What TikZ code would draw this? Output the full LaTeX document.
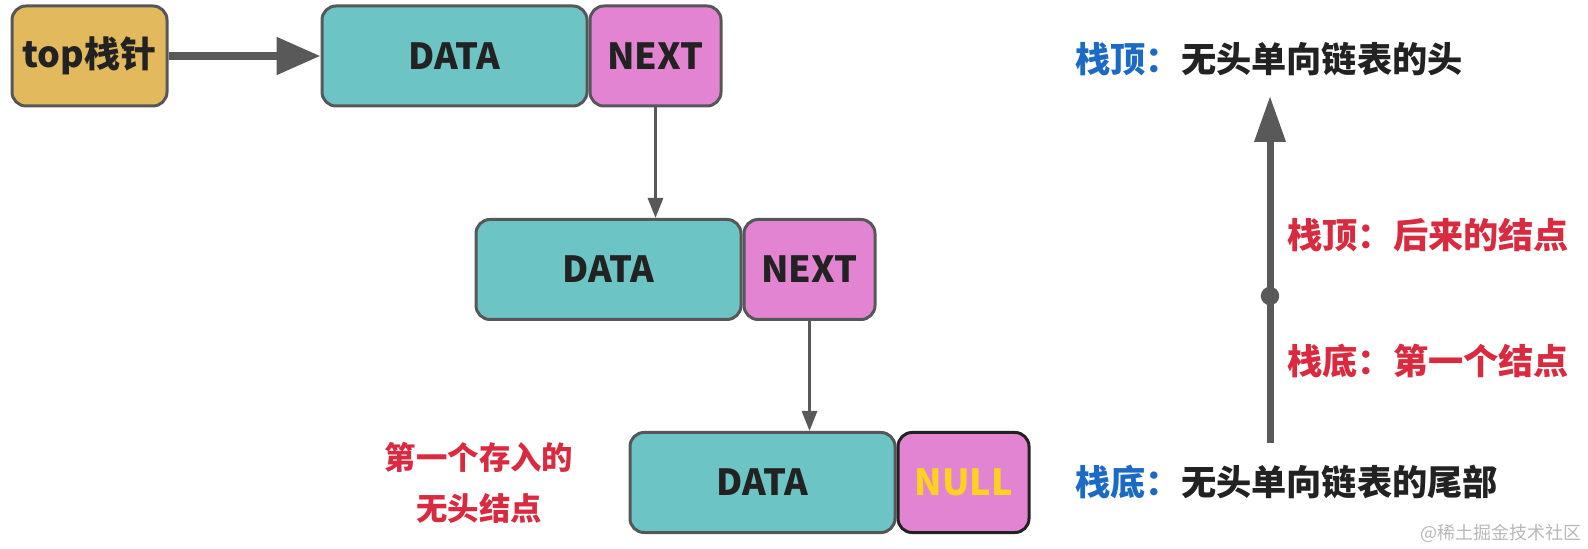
\documentclass[tikz,border=0pt]{standalone}
\usepackage{fontspec}
\setmainfont{Noto Sans CJK SC}
\usetikzlibrary{arrows.meta}
\definecolor{boxgray}{HTML}{555759}
\definecolor{arrowgray}{HTML}{595959}
\definecolor{topfill}{HTML}{E2B95C}
\definecolor{datafill}{HTML}{6CC4C4}
\definecolor{nextfill}{HTML}{E384D3}
\definecolor{txt}{HTML}{222222}
\definecolor{nullyellow}{HTML}{FCD21E}
\definecolor{lblblue}{HTML}{1B6AC4}
\definecolor{lblred}{HTML}{D92A3F}
\definecolor{wmgray}{HTML}{B8B8B8}
\begin{document}
\begin{tikzpicture}[x=0.5pt,y=-0.5pt,
  box/.style={draw=boxgray, line width=1.5pt, rounded corners=7pt, inner sep=0pt,
    minimum height=50pt, text=txt, font=\bfseries\fontsize{18}{20}\selectfont},
  databox/.style={box, fill=datafill, minimum width=132.5pt},
  nextbox/.style={box, fill=nextfill, minimum width=65.5pt},
  bigarrow/.style={draw=arrowgray, line width=4pt, -{Triangle[length=22pt,width=18pt]}},
  vbigarrow/.style={draw=arrowgray, line width=3.5pt, -{Triangle[length=23pt,width=15pt]}},
  smallarrow/.style={draw=arrowgray, line width=1.5pt, -{Triangle[length=10pt,width=7.5pt]}},
  cjklbl/.style={font=\bfseries\fontsize{17.6}{20}\selectfont, anchor=west, inner sep=0pt},
  redlbl/.style={cjklbl, text=lblred}
]
\useasboundingbox (0,0) rectangle (1588,549);

% nodes
\node[box, fill=topfill, minimum width=77.5pt] (top) at (89.5,56) {top栈针};
\node[databox] (d1) at (454.5,56) {DATA};
\node[nextbox] (n1) at (655.5,56) {NEXT};
\node[databox] (d2) at (608.5,269.5) {DATA};
\node[nextbox] (n2) at (809.5,269.5) {NEXT};
\node[databox] (d3) at (762.5,482.5) {DATA};
\node[nextbox, draw=txt, text=nullyellow] (n3) at (963.5,482.5) {NULL};

% connectors
\draw[bigarrow] (top.east) -- (d1.west);
\draw[smallarrow] (n1.south) -- (n1.south |- d2.north);
\draw[smallarrow] (n2.south) -- (n2.south |- d3.north);

% left label
\node[align=center, text=lblred, font=\bfseries\fontsize{15.7}{25.5}\selectfont] (first) at (479,483) {第一个存入的\\无头结点};

% right side
\coordinate (vb) at (1270,443);
\coordinate (vt) at (1270,96);
\coordinate (vdot) at (1270,296);
\draw[vbigarrow] (vb) -- (vt);
\fill[arrowgray] (vdot) circle[radius=4.6pt];

\node[cjklbl, text=txt] (stop) at (1075,59) {\textcolor{lblblue}{栈顶：}无头单向链表的头};
\node[redlbl] (later) at (1287,235) {栈顶：后来的结点};
\node[redlbl] (firstn) at (1287,361) {栈底：第一个结点};
\node[cjklbl, text=txt] (sbot) at (1075,482) {\textcolor{lblblue}{栈底：}无头单向链表的尾部};

% watermark
\node[anchor=east, inner sep=0pt, text=wmgray, font=\fontsize{9}{10}\selectfont] (wm) at (1582,533) {@稀土掘金技术社区};
\end{tikzpicture}
\end{document}
